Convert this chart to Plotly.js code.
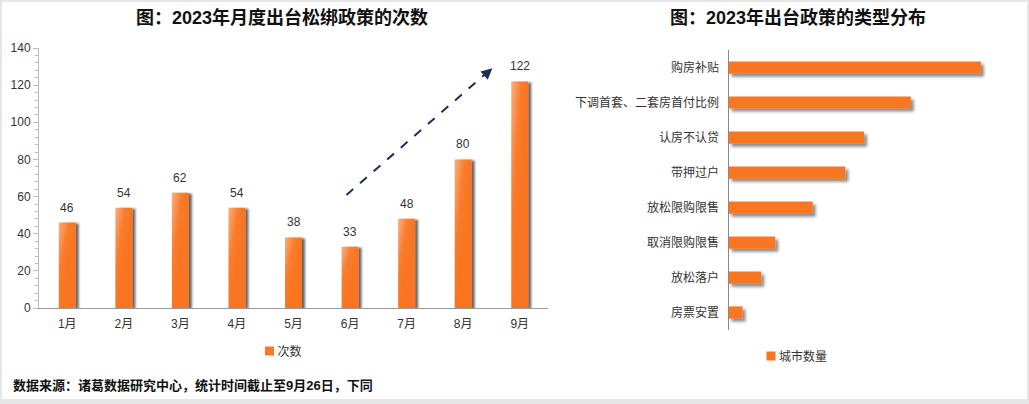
<!DOCTYPE html>
<html>
<head>
<meta charset="utf-8">
<script src="https://cdn.plot.ly/plotly-3.0.1.min.js"></script>
<style>
html,body{margin:0;padding:0;background:#fff;}
#chart{width:1029px;height:404px;}
</style>
</head>
<body>
<div id="chart"></div>
<script>
// ---- data ----
const months = ['1月','2月','3月','4月','5月','6月','7月','8月','9月'];
const policyCounts = [46, 54, 62, 54, 38, 33, 48, 80, 122];
const policyTypes = ['购房补贴','下调首套、二套房首付比例','认房不认贷','带押过户','放松限购限售','取消限购限售','放松落户','房票安置'];
const cityCounts = [54, 39, 29, 25, 18, 10, 7, 3];
const seriesNameLeft = '次数';
const seriesNameRight = '城市数量';
const titleLeft = '图：2023年月度出台松绑政策的次数';
const titleRight = '图：2023年出台政策的类型分布';
const footer = '数据来源：诸葛数据研究中心，统计时间截止至9月26日，下同';

const W = 1029, H = 404;
const px = v => v / W;
const py = v => (H - v) / H;
const FONT = '"Liberation Sans", Arial, "Noto Sans CJK SC", sans-serif';
const TITLEFONT = '"Liberation Sans", Arial, "Noto Sans CJK SC", sans-serif';

const traces = [
  {
    type: 'bar', x: months, y: policyCounts, name: seriesNameLeft,
    xaxis: 'x', yaxis: 'y', width: 0.3,
    marker: {color: '#F7792A', line: {width: 0}},
    hoverinfo: 'skip', legend: 'legend', showlegend: true
  },
  {
    type: 'bar', orientation: 'h', x: cityCounts, y: policyTypes, name: seriesNameRight,
    xaxis: 'x2', yaxis: 'y2', width: 0.35,
    marker: {color: '#F97723', line: {width: 0}},
    hoverinfo: 'skip', legend: 'legend2', showlegend: true
  }
];

const annotations = [];
months.forEach((m, i) => {
  annotations.push({
    xref: 'x', yref: 'y', x: m, y: policyCounts[i], text: String(policyCounts[i]),
    showarrow: false, yanchor: 'bottom', yshift: 6,
    font: {family: FONT, size: 12, color: '#333'}
  });
});
annotations.push({xref: 'paper', yref: 'paper', x: px(282), y: py(17), text: titleLeft,
  showarrow: false, xanchor: 'center', yanchor: 'middle',
  font: {family: TITLEFONT, size: 18, color: '#111', weight: 'bold'}});
annotations.push({xref: 'paper', yref: 'paper', x: px(798), y: py(17), text: titleRight,
  showarrow: false, xanchor: 'center', yanchor: 'middle',
  font: {family: TITLEFONT, size: 18, color: '#111', weight: 'bold'}});
annotations.push({xref: 'paper', yref: 'paper', x: px(11), y: py(385), text: footer,
  showarrow: false, xanchor: 'left', yanchor: 'middle',
  font: {family: TITLEFONT, size: 13, color: '#111', weight: 'bold'}});
// trend arrow head
annotations.push({xref: 'x', yref: 'y', x: 7.516, y: 129.1, ax: -9, ay: 8, text: '',
  showarrow: true, arrowhead: 2, arrowsize: 1.1, arrowwidth: 2, arrowcolor: '#1B2F5A'});

const layout = {
  width: W, height: H,
  margin: {l: 0, r: 0, t: 0, b: 0},
  paper_bgcolor: '#fff', plot_bgcolor: 'rgba(0,0,0,0)',
  font: {family: FONT, size: 12, color: '#333'},
  showlegend: true,
  xaxis: {
    domain: [px(39), px(548)], anchor: 'y', type: 'category',
    showline: true, linecolor: '#999', linewidth: 1, ticks: '', showgrid: false, zeroline: false,
    tickfont: {family: FONT, size: 12, color: '#333'}, ticklabelstandoff: 5, fixedrange: true
  },
  yaxis: {
    domain: [py(308), py(48)], anchor: 'x', range: [0, 140], dtick: 20,
    showline: true, linecolor: '#bbb', linewidth: 1, showgrid: false, zeroline: false,
    ticks: 'outside', ticklen: 5, tickcolor: '#bbb', tickwidth: 1,
    minor: {dtick: 4, ticks: 'outside', ticklen: 3, tickcolor: '#bbb', showgrid: false},
    tickfont: {family: FONT, size: 12, color: '#333'}, fixedrange: true
  },
  xaxis2: {
    domain: [px(728.5), px(1009)], anchor: 'y2', range: [0, 60], visible: false, fixedrange: true
  },
  yaxis2: {
    domain: [py(330), py(50)], anchor: 'x2', type: 'category',
    categoryorder: 'array', categoryarray: policyTypes, autorange: 'reversed',
    showline: true, linecolor: '#888', linewidth: 1, ticks: '', showgrid: false, zeroline: false,
    tickfont: {family: FONT, size: 12, color: '#333'}, ticklabelstandoff: 6, fixedrange: true
  },
  legend: {
    orientation: 'h', x: px(272.5), y: py(351), xanchor: 'center', yanchor: 'middle',
    font: {family: FONT, size: 12, color: '#333'}, bgcolor: 'rgba(0,0,0,0)', itemwidth: 30
  },
  legend2: {
    orientation: 'h', x: px(786), y: py(356), xanchor: 'center', yanchor: 'middle',
    font: {family: FONT, size: 12, color: '#333'}, bgcolor: 'rgba(0,0,0,0)', itemwidth: 30
  },
  annotations: annotations,
  shapes: [
    {type: 'line', xref: 'x', yref: 'y', x0: 4.936, y0: 60.85, x1: 7.45, y1: 127.5,
      line: {color: '#1B2F5A', width: 2, dash: 'dash'}},
    {type: 'rect', xref: 'paper', yref: 'paper', x0: 0, x1: 1, y0: 0, y1: py(399), fillcolor: '#e6e6e6', line: {width: 0}},
    {type: 'rect', xref: 'paper', yref: 'paper', x0: 0, x1: 1, y0: py(2), y1: 1, fillcolor: '#e6e6e6', line: {width: 0}},
    {type: 'rect', xref: 'paper', yref: 'paper', x0: 0, x1: px(2), y0: 0, y1: 1, fillcolor: '#e6e6e6', line: {width: 0}},
    {type: 'rect', xref: 'paper', yref: 'paper', x0: px(1027), x1: 1, y0: 0, y1: 1, fillcolor: '#e6e6e6', line: {width: 0}}
  ]
};

const gd = document.getElementById('chart');
Plotly.newPlot(gd, traces, layout, {displayModeBar: false, staticPlot: true}).then(() => {
  const NS = 'http://www.w3.org/2000/svg';
  const svg = gd.querySelector('.main-svg');
  let defs = svg.querySelector('defs');
  const grad = document.createElementNS(NS, 'linearGradient');
  grad.setAttribute('id', 'barGrad');
  grad.setAttribute('x1', '0'); grad.setAttribute('y1', '0');
  grad.setAttribute('x2', '0.6'); grad.setAttribute('y2', '0.55');
  [['0', '#FCAE80'], ['0.55', '#F87C2C'], ['1', '#F97420']].forEach(([o, c]) => {
    const s = document.createElementNS(NS, 'stop');
    s.setAttribute('offset', o); s.setAttribute('stop-color', c);
    grad.appendChild(s);
  });
  defs.appendChild(grad);
  const mkShadow = (id, dx, dy, sd, op) => {
    const f = document.createElementNS(NS, 'filter');
    f.setAttribute('id', id);
    f.setAttribute('x', '-50%'); f.setAttribute('y', '-50%');
    f.setAttribute('width', '200%'); f.setAttribute('height', '200%');
    const d = document.createElementNS(NS, 'feDropShadow');
    d.setAttribute('dx', dx); d.setAttribute('dy', dy);
    d.setAttribute('stdDeviation', sd);
    d.setAttribute('flood-color', '#000'); d.setAttribute('flood-opacity', op);
    f.appendChild(d); defs.appendChild(f);
  };
  mkShadow('shL', 3, 1, 1, 0.6);
  mkShadow('shR', 3, 3, 1.4, 0.45);
  gd.querySelectorAll('.subplot.xy .barlayer path').forEach(p => {
    p.style.fill = 'url(#barGrad)';
    p.setAttribute('filter', 'url(#shL)');
  });
  gd.querySelectorAll('.subplot.x2y2 .barlayer path').forEach(p => {
    p.setAttribute('filter', 'url(#shR)');
  });
  // smaller legend squares, moved next to their text
  gd.querySelectorAll('.legendpoints path').forEach(p => {
    p.setAttribute('d', 'M16.5,4.5H7.5V-4.5H16.5Z');
  });
});
</script>
</body>
</html>
